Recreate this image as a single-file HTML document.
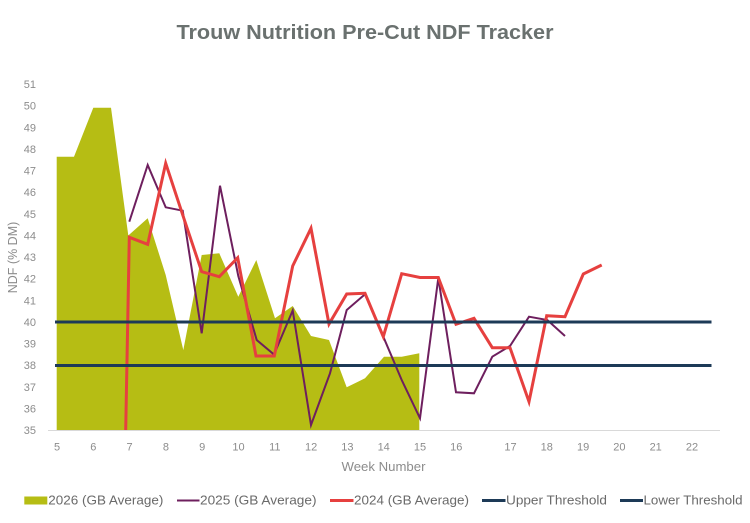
<!DOCTYPE html>
<html>
<head>
<meta charset="utf-8">
<style>
  html, body { margin: 0; padding: 0; background: #ffffff; }
  body { width: 750px; height: 523px; overflow: hidden; }
  svg { display: block; }
  text { font-family: "Liberation Sans", "DejaVu Sans", sans-serif; }
</style>
</head>
<body>
<svg width="750" height="523" viewBox="0 0 750 523" xmlns="http://www.w3.org/2000/svg">
  <rect x="0" y="0" width="750" height="523" fill="#ffffff"/>

  <!-- Title -->
  <text x="176.5" y="39" font-size="20" font-weight="bold" fill="#6a716f" textLength="377" lengthAdjust="spacingAndGlyphs">Trouw Nutrition Pre-Cut NDF Tracker</text>

  <!-- Y tick labels -->
  <g font-size="11" fill="#8c8c8c" text-anchor="end">
    <text x="36" y="88">51</text>
    <text x="36" y="109.6">50</text>
    <text x="36" y="131.3">49</text>
    <text x="36" y="152.9">48</text>
    <text x="36" y="174.5">47</text>
    <text x="36" y="196.1">46</text>
    <text x="36" y="217.8">45</text>
    <text x="36" y="239.4">44</text>
    <text x="36" y="261">43</text>
    <text x="36" y="282.6">42</text>
    <text x="36" y="304.3">41</text>
    <text x="36" y="325.9">40</text>
    <text x="36" y="347.5">39</text>
    <text x="36" y="369.1">38</text>
    <text x="36" y="390.8">37</text>
    <text x="36" y="412.4">36</text>
    <text x="36" y="434">35</text>
  </g>

  <!-- Y axis title -->
  <text x="0" y="0" font-size="12.5" fill="#8c8c8c" text-anchor="middle" transform="translate(17,257.5) rotate(-90)">NDF (% DM)</text>

  <!-- X axis line -->
  <line x1="48" y1="430.5" x2="720" y2="430.5" stroke="#d9d9d9" stroke-width="1"/>

  <!-- X tick labels -->
  <g font-size="11" fill="#8c8c8c" text-anchor="middle">
    <text x="57" y="450.5">5</text>
    <text x="93.3" y="450.5">6</text>
    <text x="129.6" y="450.5">7</text>
    <text x="165.9" y="450.5">8</text>
    <text x="202.2" y="450.5">9</text>
    <text x="238.5" y="450.5">10</text>
    <text x="274.8" y="450.5">11</text>
    <text x="311.1" y="450.5">12</text>
    <text x="347.4" y="450.5">13</text>
    <text x="383.7" y="450.5">14</text>
    <text x="420" y="450.5">15</text>
    <text x="456.3" y="450.5">16</text>
    <text x="510.5" y="450.5">17</text>
    <text x="546.8" y="450.5">18</text>
    <text x="583.1" y="450.5">19</text>
    <text x="619.4" y="450.5">20</text>
    <text x="655.7" y="450.5">21</text>
    <text x="692" y="450.5">22</text>
  </g>

  <!-- X axis title -->
  <text x="383.5" y="471" font-size="12.5" fill="#8c8c8c" text-anchor="middle" textLength="84" lengthAdjust="spacingAndGlyphs">Week Number</text>

  <!-- 2026 area -->
  <polygon fill="#b6bd14" points="
    56.7,430 56.7,156.7 74,156.7 93.3,107.7 111,107.7 128.3,235.5 147.7,218.3
    165.7,275 183.3,350 201.7,255 219.3,253.3 238.3,296.7 256.3,260 275,318.3
    292.7,306 311,336 329,340 346.7,387.3 365,378.3 384,356.7 401.7,356.7
    419.3,353.3 419.3,430"/>

  <!-- 2025 line -->
  <polyline fill="none" stroke="#6e1f5e" stroke-width="2" stroke-linejoin="miter" points="
    129.3,221.7 147.7,165 165.7,207.3 182.7,210.7 201.7,333.3 220,185.7 238.3,276
    256.7,340 274,354.5 292.7,310.5 311,425 330,373.3 346.7,310 365,294.3 383.3,336.7
    401.7,380 420,418.3 438.3,278 456,392.3 474,393.3 492.3,356.7 510,346 529,316.7
    547.3,320 565,336"/>

  <!-- 2024 line -->
  <polyline fill="none" stroke="#e6403f" stroke-width="3" stroke-linejoin="miter" points="
    125.7,430 129.3,237.3 147.7,244.3 165.7,163.3 183.3,216.7 201.7,271.7 219.3,276.7
    237.7,257.7 256,356 274.3,356 292.7,266 311,228.3 329,324 346.7,294 365,293.3
    383.3,336.7 401.7,273.7 420,277.5 438.3,277.5 456,324.3 474,318.3 492.3,347.7
    510,347.7 529,401.7 546.7,315.7 565,316.7 583.3,274 601.7,265"/>

  <!-- Thresholds -->
  <line x1="55" y1="322" x2="711.5" y2="322" stroke="#1d3a57" stroke-width="3"/>
  <line x1="55" y1="365.5" x2="711.5" y2="365.5" stroke="#1d3a57" stroke-width="3"/>

  <!-- Legend -->
  <rect x="24.3" y="496.5" width="23" height="8" fill="#b6bd14"/>
  <text x="48.3" y="504.5" font-size="12.5" fill="#6a6a6a" textLength="115" lengthAdjust="spacingAndGlyphs">2026 (GB Average)</text>

  <line x1="177" y1="500.5" x2="199.5" y2="500.5" stroke="#6e1f5e" stroke-width="2"/>
  <text x="200" y="504.5" font-size="12.5" fill="#6a6a6a" textLength="116.5" lengthAdjust="spacingAndGlyphs">2025 (GB Average)</text>

  <line x1="330" y1="500.5" x2="353.5" y2="500.5" stroke="#e6403f" stroke-width="3"/>
  <text x="354" y="504.5" font-size="12.5" fill="#6a6a6a" textLength="115" lengthAdjust="spacingAndGlyphs">2024 (GB Average)</text>

  <line x1="482" y1="500.5" x2="505.5" y2="500.5" stroke="#1d3a57" stroke-width="3"/>
  <text x="506" y="504.5" font-size="12.5" fill="#6a6a6a" textLength="101" lengthAdjust="spacingAndGlyphs">Upper Threshold</text>

  <line x1="620" y1="500.5" x2="643" y2="500.5" stroke="#1d3a57" stroke-width="3"/>
  <text x="643.5" y="504.5" font-size="12.5" fill="#6a6a6a" textLength="99" lengthAdjust="spacingAndGlyphs">Lower Threshold</text>
</svg>
</body>
</html>
